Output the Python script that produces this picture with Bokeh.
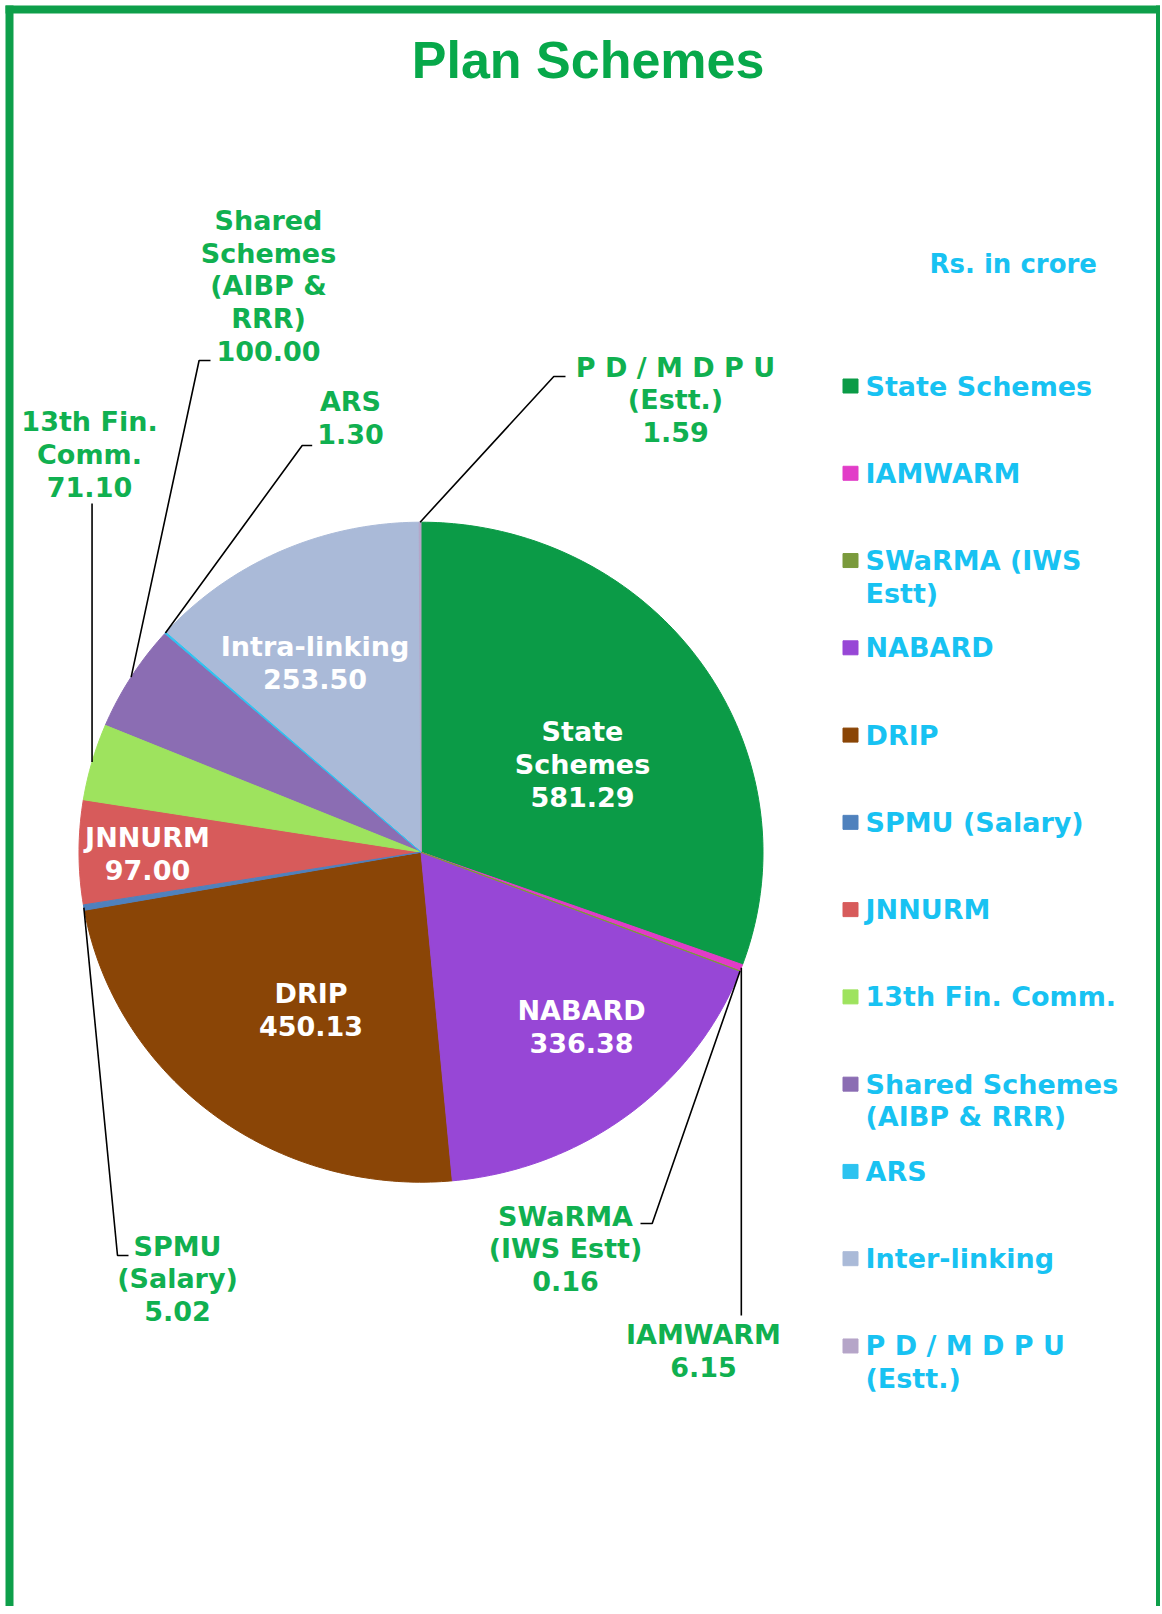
import numpy as np
from bokeh.plotting import figure
from bokeh.models import Range1d
from bokeh.core.properties import value
from bokeh.embed import file_html
from bokeh.resources import INLINE

# ---------------- data ----------------
title_text = "Plan Schemes"
unit_note = "Rs. in crore"
categories = ["State Schemes", "IAMWARM", "SWaRMA (IWS Estt)", "NABARD", "DRIP",
              "SPMU (Salary)", "JNNURM", "13th Fin. Comm.",
              "Shared Schemes (AIBP & RRR)", "ARS", "Inter-linking",
              "P D / M D P U (Estt.)"]
values = [581.29, 6.15, 0.16, 336.38, 450.13, 5.02, 97.00, 71.10, 100.00, 1.30, 253.50, 1.59]
legend_lines = [["State Schemes"], ["IAMWARM"], ["SWaRMA (IWS", "Estt)"], ["NABARD"], ["DRIP"],
                ["SPMU (Salary)"], ["JNNURM"], ["13th Fin. Comm."],
                ["Shared Schemes", "(AIBP & RRR)"], ["ARS"], ["Inter-linking"],
                ["P D / M D P U", "(Estt.)"]]
slice_names = [["State", "Schemes"], ["IAMWARM"], ["SWaRMA", "(IWS Estt)"], ["NABARD"], ["DRIP"],
               ["SPMU", "(Salary)"], ["JNNURM"], ["13th Fin.", "Comm."],
               ["Shared", "Schemes", "(AIBP &", "RRR)"], ["ARS"], ["Intra-linking"],
               ["P D / M D P U", "(Estt.)"]]
colors = ["#0B9B47", "#E23CC8", "#7A9A3C", "#9747D6", "#8A4506", "#4F81BD",
          "#D75B5B", "#9EE35E", "#8B6DB3", "#2DC3F0", "#AABAD8", "#B5A5C8"]

# ---------------- layout (image pixel coordinates) ----------------
W, H = 1160, 1606
CX, CY, RX, RY = 420.5, 851.7, 342, 330   # slightly tilted (elliptical) pie
FONT = value("DejaVu Sans")
LINE = 32.7
TXT_GREEN = "#10B050"
TXT_BLUE = "#18C2F2"
TSHIFT = 9.5   # baseline correction for 27px text

def Y(yimg):
    return -yimg

def pie_pt(theta):
    # theta: clockwise angle from 12 o'clock (radians)
    return CX + RX * np.sin(theta), CY - RY * np.cos(theta)

# label placement: (center x, first baseline, inside?, elbow points from pie outward)
label_layout = {
    0: (582, 740.7, True, None),
    1: (703, 1343.3, False, "vert_to:1315"),
    2: (565, 1225, False, [(651.7, 1223), (640, 1223)]),
    3: (581, 1019.3, True, None),
    4: (310.5, 1002.7, True, None),
    5: (177, 1255, False, [(117, 1255), (128, 1255)]),
    6: (147, 846.7, True, None),
    7: (89, 430.7, False, "vert_to:503"),
    8: (268, 229.3, False, [(198.6, 360), (210, 360)]),
    9: (350, 410, False, [(301.7, 445), (311.7, 445)]),
    10: (314.5, 655, True, None),
    11: (675, 376, False, [(553.3, 376), (565, 376)]),
}

p = figure(width=W, height=H, x_range=Range1d(0, W), y_range=Range1d(-H, 0),
           output_backend="svg", toolbar_location=None, x_axis_type=None, y_axis_type=None,
           min_border=0, outline_line_color=None)
p.grid.visible = False
p.background_fill_color = "white"
p.border_fill_color = "white"

# ---------------- pie ----------------
total = float(sum(values))
cum = np.cumsum([0.0] + values) / total
t0 = cum[:-1] * 2 * np.pi
t1 = cum[1:] * 2 * np.pi
tm = (t0 + t1) / 2

order = np.argsort(values)[::-1]  # big slices first, thin ones drawn on top
xs, ys, cs = [], [], []
for i in order:
    n = max(3, int((t1[i] - t0[i]) / (2 * np.pi) * 400))
    th = np.linspace(t0[i], t1[i], n)
    ex, ey = pie_pt(th)
    xs.append([CX] + list(ex))
    ys.append([Y(CY)] + [Y(v) for v in ey])
    cs.append(colors[i])
p.patches(xs=xs, ys=ys, fill_color=cs, line_color=cs, line_width=1)

# ---------------- labels + leader lines ----------------
tx, ty, tt, tc = [], [], [], []
lx, ly = [], []
for i, v in enumerate(values):
    cxl, base, inside, elbow = label_layout[i]
    lines = slice_names[i] + [f"{v:.2f}"]
    for k, s in enumerate(lines):
        tx.append(cxl)
        ty.append(Y(base - TSHIFT + k * LINE))
        tt.append(s)
        tc.append("white" if inside else TXT_GREEN)
    if not inside:
        px, py = pie_pt(tm[i])
        pts = [(px, py)]
        if isinstance(elbow, str):
            pts.append((px, float(elbow.split(":")[1])))
        else:
            pts += elbow
        lx.append([q[0] for q in pts])
        ly.append([Y(q[1]) for q in pts])

p.multi_line(xs=lx, ys=ly, line_color="black", line_width=1.6)
p.text(x=tx, y=ty, text=tt, text_color=tc, text_font=FONT, text_font_style="bold",
       text_font_size="27px", text_align="center", text_baseline="alphabetic")

# ---------------- legend ----------------
leg_x, leg_y, leg_t = [], [], []
mk_y = []
for i, lines in enumerate(legend_lines):
    base = 395 + 87.27 * i
    mk_y.append(Y(base - 9.5))
    for k, s in enumerate(lines):
        leg_x.append(865)
        leg_y.append(Y(base - TSHIFT + k * 32.5))
        leg_t.append(s)
p.rect(x=[850] * len(colors), y=mk_y, width=15, height=14, fill_color=colors,
       line_color=colors)
p.text(x=leg_x, y=leg_y, text=leg_t, text_color=TXT_BLUE, text_font=FONT,
       text_font_style="bold", text_font_size="27px", text_align="left",
       text_baseline="alphabetic")

p.text(x=[929], y=[Y(273 - TSHIFT)], text=[unit_note], text_color=TXT_BLUE, text_font=FONT,
       text_font_style="bold", text_font_size="26px", text_align="left",
       text_baseline="alphabetic")

# ---------------- title ----------------
p.text(x=[587.6], y=[Y(77 - 18)], text=[title_text], text_color="#07A84A",
       text_font=value("Liberation Sans"), text_font_style="bold", text_font_size="52px",
       text_align="center", text_baseline="alphabetic")

# ---------------- frame ----------------
BG = "#0E9F4A"
p.multi_line(xs=[[9, 9], [5, 1160], [1159.5, 1159.5]],
             ys=[[Y(5), Y(H)], [Y(9), Y(9)], [Y(5), Y(H)]],
             line_color=BG, line_width=8)

open("out.html", "w").write(file_html(p, INLINE))
